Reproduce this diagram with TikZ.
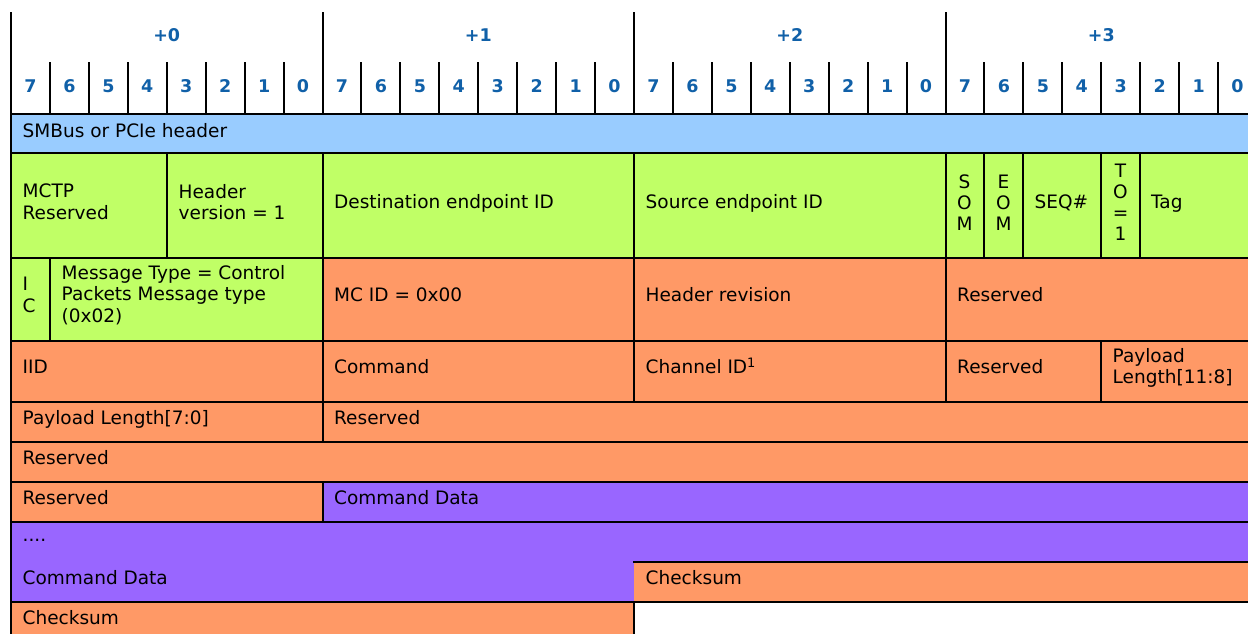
\documentclass[tikz,border=0pt]{standalone}
\usepackage{fontspec}
\setmainfont{DejaVu Sans}
\definecolor{hblue}{RGB}{153,204,255}
\definecolor{hgreen}{RGB}{192,255,102}
\definecolor{horange}{RGB}{255,153,102}
\definecolor{hpurple}{RGB}{153,102,255}
\definecolor{labelblue}{RGB}{16,96,168}
\begin{document}
\begin{tikzpicture}[x=1pt,y=-1pt,
  grid/.style={line width=2pt,line cap=rect,draw=black},
  txt/.style={anchor=west,inner sep=0pt,font=\fontsize{18.5}{21.5}\selectfont,text=black,text height=13.5pt,text depth=0pt},
  txtm/.style={anchor=west,inner sep=0pt,font=\fontsize{18.5}{21.5}\selectfont,text=black,align=left},
  vert/.style={anchor=center,inner sep=0pt,font=\fontsize{18.5}{21}\selectfont,text=black,align=center},
  hdr/.style={anchor=center,inner sep=0pt,font=\fontsize{17.5}{20}\selectfont\bfseries,text=labelblue,text height=12.8pt,text depth=0pt}]
\useasboundingbox (0,0) rectangle (1248,634);
\clip (0,0) rectangle (1248,634);
% ---------- fills ----------
\fill[hblue] (11,113.5) rectangle (1260,153);
\fill[hgreen] (11,153) rectangle (1260,257.5);
\fill[hgreen] (11,257.5) rectangle (322.5,341);
\fill[horange] (322.5,257.5) rectangle (1260,341);
\fill[horange] (11,341) rectangle (1260,482);
\fill[horange] (11,482) rectangle (322.5,522);
\fill[hpurple] (322.5,482) rectangle (1260,522);
\fill[hpurple] (11,522) rectangle (1260,562);
\fill[hpurple] (11,562) rectangle (634,602);
\fill[horange] (634,562) rectangle (1260,602);
\fill[horange] (11,602) rectangle (634,640);
% ---------- header grid ----------
\foreach \b in {0,...,4}
  \draw[grid] ({11+311.5*\b},13) -- ({11+311.5*\b},113.5);
\foreach \b in {0,...,3}{
  \foreach \i in {1,...,7}{
    \draw[grid] ({11+311.5*\b+38.9375*\i},63) -- ({11+311.5*\b+38.9375*\i},113.5);
  }
}
\foreach \b in {0,...,3}
  \node[hdr] (byte-\b) at ({11+311.5*\b+155.75},35) {+\b};
\foreach \b in {0,...,3}{
  \foreach \i in {0,...,7}{
    \pgfmathtruncatemacro\dg{7-\i}
    \node[hdr] (bit-\b-\dg) at ({11+311.5*\b+38.9375*\i+19.47},86) {\dg};
  }
}
% ---------- horizontal lines ----------
\foreach \yy in {113.5,153,257.5,341,402,442,482,522,602}
  \draw[grid] (11,\yy) -- (1260,\yy);
\draw[grid] (634,562) -- (1260,562);
% ---------- vertical lines ----------
\draw[grid] (11,113.5) -- (11,640);
\foreach \xx in {166.75,322.5,634,945.5,984.44,1023.38,1101.25,1140.19}
  \draw[grid] (\xx,153) -- (\xx,257.5);
\foreach \xx in {49.94,322.5,634,945.5}
  \draw[grid] (\xx,257.5) -- (\xx,341);
\foreach \xx in {322.5,634,945.5,1101.25}
  \draw[grid] (\xx,341) -- (\xx,402);
\draw[grid] (322.5,402) -- (322.5,442);
\draw[grid] (322.5,482) -- (322.5,522);
\draw[grid] (634,602) -- (634,640);
% ---------- texts ----------
\node[txt] (smbus) at (22.5,130.5) {SMBus or PCIe header};
\node[txtm] (mctp) at (22.5,202) {MCTP\\Reserved};
\node[txtm] (hver) at (178.5,202) {Header\\version = 1};
\node[txt] (dest) at (334,202) {Destination endpoint ID};
\node[txt] (src) at (645.5,202) {Source endpoint ID};
\node[vert] (som) at (964.5,202.5) {S\\O\\M};
\node[vert] (eom) at (1003.5,202.5) {E\\O\\M};
\node[txt] (seq) at (1034.5,202) {SEQ\#};
\node[vert] (to) at (1120.5,202.5) {T\\O\\=\\1};
\node[txt] (tag) at (1151,202) {Tag};
\node[txtm,align=left] (ic) at (22.5,295) {I\\C};
\node[txtm] (msg) at (61.5,295) {Message Type = Control\\Packets Message type\\(0x02)};
\node[txt] (mcid) at (334,295) {MC ID = 0x00};
\node[txt] (hrev) at (645.5,295) {Header revision};
\node[txt] (res3) at (957,295) {Reserved};
\node[txt] (iid) at (22.5,367) {IID};
\node[txt] (cmd) at (334,367) {Command};
\node[txt] (chan) at (645.5,367) {Channel ID\textsuperscript{1}};
\node[txt] (res4) at (957,367) {Reserved};
\node[txtm] (plen) at (1112.5,368) {Payload\\Length[11:8]};
\node[txt] (plen2) at (22.5,418) {Payload Length[7:0]};
\node[txt] (res5) at (334,418) {Reserved};
\node[txt] (res6) at (22.5,458) {Reserved};
\node[txt] (res7) at (22.5,498) {Reserved};
\node[txt] (cdata1) at (334,498) {Command Data};
\node[txt] (dots) at (22.5,535) {....};
\node[txt] (cdata2) at (22.5,578) {Command Data};
\node[txt] (csum1) at (645.5,578) {Checksum};
\node[txt] (csum2) at (22.5,618) {Checksum};
\end{tikzpicture}
\end{document}
